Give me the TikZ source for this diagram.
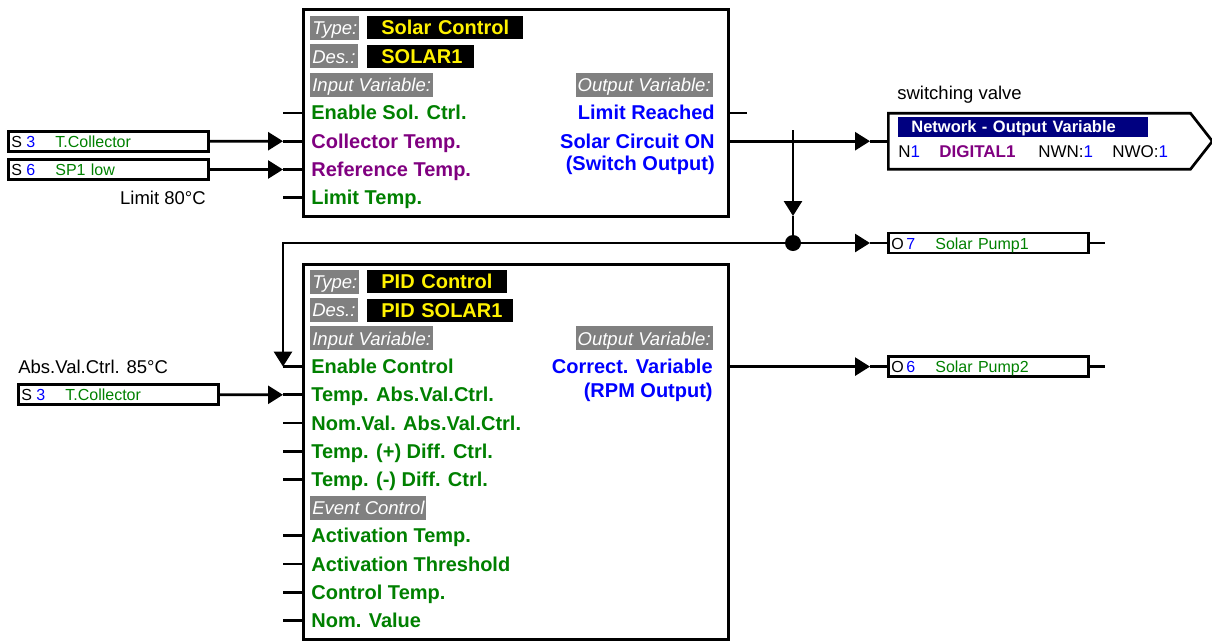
\documentclass[tikz,border=0pt]{standalone}
\usepackage{fontspec}
\setmainfont{Liberation Sans}
\usetikzlibrary{arrows.meta,shapes.symbols}
\definecolor{vgreen}{RGB}{0,128,0}
\definecolor{vpurple}{RGB}{128,0,128}
\definecolor{vblue}{RGB}{0,0,255}
\definecolor{vgray}{RGB}{128,128,128}
\definecolor{vnavy}{RGB}{0,0,128}
\newcommand{\iolabel}[3]{\makebox[15pt][l]{#1}\makebox[29pt][l]{\textcolor{vblue}{#2}}\textcolor{vgreen}{#3}}
\begin{document}
\begin{tikzpicture}[x=1pt,y=-1pt,line width=2.7pt,>={Triangle[length=15pt,width=18pt]}]
\tikzset{
  blockbox/.style={draw,line width=3.2pt,anchor=north west,inner sep=0pt},
  hdr/.style={fill=vgray,text=white,anchor=west,inner xsep=2pt,inner ysep=0pt,minimum height=24pt,text height=14.5pt,text depth=1pt,font=\fontsize{18.5}{19}\selectfont\itshape},
  tagbox/.style={fill=black,text=yellow,anchor=west,inner xsep=0pt,inner ysep=0pt,minimum height=23pt,text height=15pt,text depth=1pt,text width=#1,font=\fontsize{20}{21}\selectfont\bfseries},
  lbl/.style={anchor=west,inner sep=0pt,text height=15pt,text depth=1pt,text=#1,font=\fontsize{20}{21}\selectfont\bfseries},
  outlbl/.style={anchor=east,inner sep=0pt,text height=15pt,text depth=1pt,text=vblue,font=\fontsize{20}{21}\selectfont\bfseries},
  iobox/.style={draw,anchor=west,minimum width=200pt,minimum height=20pt,inner xsep=3pt,inner ysep=0pt,text width=194pt,text height=12pt,text depth=0pt,align=left,font=\fontsize{16}{16}\selectfont},
  note/.style={inner sep=0pt,text height=14pt,text depth=1pt,font=\fontsize{18.5}{19}\selectfont},
  netrow/.style={anchor=base west,inner sep=0pt,font=\fontsize{17}{17}\selectfont}
}
\useasboundingbox (0,0) rectangle (1212,641);
%%% Solar Control block
\node[blockbox,minimum width=425pt,minimum height=207pt] (solar) at (302,8) {};
\node[hdr] (solar-type) at (309,28) {Type:};
\node[tagbox=156pt] (solar-typeval) at (366,27.5) {\hspace*{14pt}Solar Control};
\node[hdr] (solar-des) at (309,56.3) {Des.:};
\node[tagbox=107pt] (solar-desval) at (366,56) {\hspace*{14pt}SOLAR1};
\node[hdr] (solar-inhdr) at (309,84.6) {Input Variable:};
\node[hdr,anchor=east] (solar-outhdr) at (714,84.6) {Output Variable:};
\foreach \k/\txt/\col in {4/Enable Sol. Ctrl./vgreen,5/Collector Temp./vpurple,6/Reference Temp./vpurple,7/Limit Temp./vgreen}{
  \node[lbl=\col] (solar-lbl\k) at (310,{28+28.3*(\k-1)}) {\txt};
  \coordinate (solar-in\k) at (283,{28+28.3*(\k-1)});
  \draw (solar-in\k) -- (solar-in\k -| solar.west);
}
\node[outlbl] (solar-out4) at (716,112.9) {Limit Reached};
\node[outlbl] (solar-out5) at (716,141.2) {Solar Circuit ON};
\node[outlbl] (solar-out5b) at (716,163.5) {(Switch Output)};
\coordinate (solar-q4) at (747,112.9);
\draw (solar-out4 -| solar.east) -- (solar-q4);
%%% Sensors
\node[iobox] (s3a) at (7,141.2) {\iolabel{S}{3}{T.Collector}};
\node[iobox] (s6) at (7,169.5) {\iolabel{S}{6}{SP1 low}};
\node[note,anchor=east] (limit) at (207,197.8) {Limit 80°C};
\draw[->] (s3a.east) -- (solar-in5);
\draw[->] (s6.east) -- (solar-in6);
%%% Network output
\node[note,anchor=west] (valve) at (896,93) {switching valve};
\node[draw,signal,signal to=east,signal from=nowhere,signal pointer angle=104,minimum width=324pt,minimum height=56pt,inner sep=0pt,anchor=west] (net) at (887,141.2) {};
\node[anchor=west,fill=vnavy,text=white,minimum height=20pt,inner xsep=0pt,inner ysep=0pt,text width=250pt,text height=12pt,text depth=1pt,font=\fontsize{16.5}{17}\selectfont\bfseries] (net-hdr) at (897,127) {\hspace*{13pt}Network - Output Variable};
\node[netrow] (net-n) at (897,157) {N\textcolor{vblue}{1}};
\node[netrow,text=vpurple,font=\fontsize{17}{17}\selectfont\bfseries] (net-name) at (938,157) {DIGITAL1};
\node[netrow] (net-nwn) at (1037,157) {NWN:\textcolor{vblue}{1}};
\node[netrow] (net-nwo) at (1111,157) {NWO:\textcolor{vblue}{1}};
\coordinate (net-in) at (870,141.2);
\draw[->] (solar-out5 -| solar.east) -- (net-in);
\draw (net-in) -- (net.west);
%%% Branch to pump 1 and feedback
\coordinate (br-top) at (793,130);
\coordinate (br-mid) at (793,216);
\node[circle,fill,inner sep=0pt,minimum size=16pt] (junc) at (793,243) {};
\draw[->] (br-top) -- (br-mid);
\draw (br-mid) -- (junc.center);
\node[iobox] (o7) at (887,243) {\iolabel{O}{7}{Solar Pump1}};
\coordinate (o7-in) at (870,243);
\coordinate (o7-out) at (1105,243);
\draw[->] (junc.center) -- (o7-in);
\draw (o7-in) -- (o7.west);
\draw (o7.east) -- (o7-out);
%%% PID Control block
\node[blockbox,minimum width=425pt,minimum height=375pt] (pid) at (302,263) {};
\node[hdr] (pid-type) at (309,282) {Type:};
\node[tagbox=140pt] (pid-typeval) at (366,281.5) {\hspace*{14pt}PID Control};
\node[hdr] (pid-des) at (309,310.2) {Des.:};
\node[tagbox=146pt] (pid-desval) at (366,310) {\hspace*{14pt}PID SOLAR1};
\node[hdr] (pid-inhdr) at (309,338.4) {Input Variable:};
\node[hdr,anchor=east] (pid-outhdr) at (714,338.4) {Output Variable:};
\node[hdr] (pid-event) at (309,507.6) {Event Control};
\foreach \k/\txt in {4/Enable Control,5/Temp. Abs.Val.Ctrl.,6/Nom.Val. Abs.Val.Ctrl.,7/Temp. (+) Diff. Ctrl.,8/Temp. (-) Diff. Ctrl.,10/Activation Temp.,11/Activation Threshold,12/Control Temp.,13/Nom. Value}{
  \node[lbl=vgreen] (pid-lbl\k) at (310,{282+28.2*(\k-1)}) {\txt};
  \coordinate (pid-in\k) at (283,{282+28.2*(\k-1)});
  \draw (pid-in\k) -- (pid-in\k -| pid.west);
}
\node[outlbl] (pid-out4) at (714,366.6) {Correct. Variable};
\node[outlbl] (pid-out4b) at (714,390) {(RPM Output)};
\draw[->] (junc.center) -| (pid-in4);
\node[note,anchor=west] (absval) at (17,367) {Abs.Val.Ctrl. 85°C};
\node[iobox] (s3b) at (17,394.8) {\iolabel{S}{3}{T.Collector}};
\draw[->] (s3b.east) -- (pid-in5);
\node[iobox] (o6) at (887,366.6) {\iolabel{O}{6}{Solar Pump2}};
\coordinate (o6-in) at (870,366.6);
\coordinate (o6-out) at (1105,366.6);
\draw[->] (pid-out4 -| pid.east) -- (o6-in);
\draw (o6-in) -- (o6.west);
\draw (o6.east) -- (o6-out);
\end{tikzpicture}
\end{document}
